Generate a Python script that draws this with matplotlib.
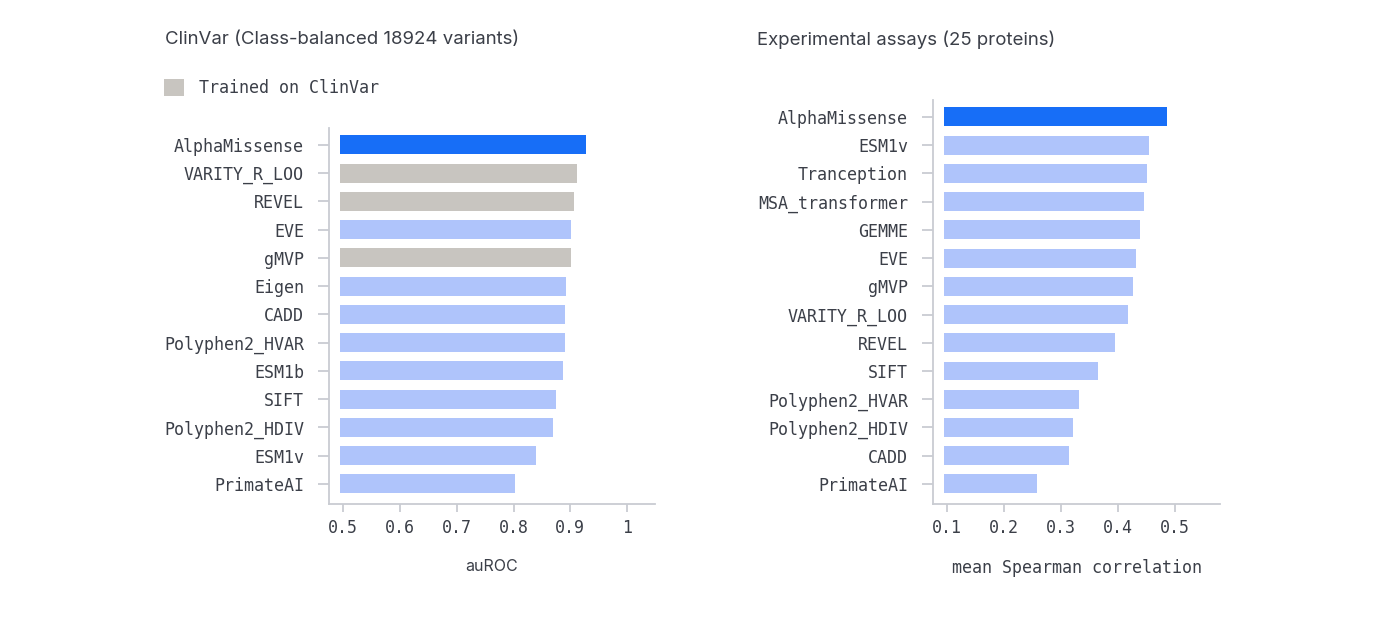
import matplotlib
matplotlib.use("Agg")
import matplotlib.pyplot as plt
from matplotlib.patches import Patch

# ClinVar panel
clinvar_models = ["AlphaMissense", "VARITY_R_LOO", "REVEL", "EVE", "gMVP", "Eigen", "CADD",
                  "Polyphen2_HVAR", "ESM1b", "SIFT", "Polyphen2_HDIV", "ESM1v", "PrimateAI"]
clinvar_auroc = [0.927, 0.911, 0.907, 0.901, 0.901, 0.893, 0.890,
                 0.890, 0.887, 0.874, 0.870, 0.839, 0.803]
clinvar_trained = [False, True, True, False, True, False, False,
                   False, False, False, False, False, False]
clinvar_ticks = [0.5, 0.6, 0.7, 0.8, 0.9, 1.0]
clinvar_ticklabels = ["0.5", "0.6", "0.7", "0.8", "0.9", "1"]

# experimental assays panel
assay_models = ["AlphaMissense", "ESM1v", "Tranception", "MSA_transformer", "GEMME", "EVE", "gMVP",
                "VARITY_R_LOO", "REVEL", "SIFT", "Polyphen2_HVAR", "Polyphen2_HDIV", "CADD", "PrimateAI"]
assay_spearman = [0.486, 0.454, 0.450, 0.445, 0.439, 0.432, 0.427,
                  0.418, 0.394, 0.364, 0.331, 0.321, 0.314, 0.257]
assay_ticks = [0.1, 0.2, 0.3, 0.4, 0.5]
assay_ticklabels = ["0.1", "0.2", "0.3", "0.4", "0.5"]

BLUE = "#176ef7"
LIGHT = "#afc4fb"
GREY = "#c8c5c0"
SPINE = "#c9ccd2"
TEXT = "#3b3f48"
MONO = "DejaVu Sans Mono"
SANS = "Inter"

fig = plt.figure(figsize=(13.98, 6.37), dpi=100)


def style_axes(ax, names, ticks, ticklabels):
    for s in ["top", "right"]:
        ax.spines[s].set_visible(False)
    for s in ["left", "bottom"]:
        ax.spines[s].set_color(SPINE)
        ax.spines[s].set_linewidth(1.3)
    ax.set_yticks(range(len(names)))
    ax.set_yticklabels(names, family=MONO, fontsize=12, color=TEXT)
    ax.set_xticks(ticks)
    ax.set_xticklabels(ticklabels, family=MONO, fontsize=12, color=TEXT)
    ax.tick_params(axis="y", length=8, width=1.3, color=SPINE, pad=10)
    ax.tick_params(axis="x", length=6, width=1.3, color=SPINE, pad=5)


# left panel
ax1 = fig.add_axes([0.2353, 0.2088, 0.2332, 0.5903])
colors1 = []
for i, t in enumerate(clinvar_trained):
    if i == 0:
        colors1.append(BLUE)
    elif t:
        colors1.append(GREY)
    else:
        colors1.append(LIGHT)
base1 = 0.495
ax1.barh(range(len(clinvar_models)), [v - base1 for v in clinvar_auroc], left=base1,
         height=0.67, color=colors1)
ax1.set_xlim(0.475, 1.049)
ax1.set_ylim(len(clinvar_models) - 1 + 0.71, -0.6)
style_axes(ax1, clinvar_models, clinvar_ticks, clinvar_ticklabels)
ax1.set_xlabel("auROC", family=SANS, fontsize=11.5, color=TEXT, labelpad=16)

# right panel
ax2 = fig.add_axes([0.6674, 0.2088, 0.2053, 0.6342])
colors2 = [BLUE] + [LIGHT] * (len(assay_models) - 1)
base2 = 0.095
ax2.barh(range(len(assay_models)), [v - base2 for v in assay_spearman], left=base2,
         height=0.67, color=colors2)
ax2.set_xlim(0.0754, 0.579)
ax2.set_ylim(len(assay_models) - 1 + 0.71, -0.6)
style_axes(ax2, assay_models, assay_ticks, assay_ticklabels)
ax2.set_xlabel("mean Spearman correlation", family=MONO, fontsize=12, color=TEXT, labelpad=16)

# titles
fig.text(165 / 1398, 1 - 40 / 637, "ClinVar (Class-balanced 18924 variants)",
         family=SANS, fontsize=13.4, color=TEXT, va="center", ha="left")
fig.text(757 / 1398, 1 - 40 / 637, "Experimental assays (25 proteins)",
         family=SANS, fontsize=13.4, color=TEXT, va="center", ha="left")

# legend
leg = fig.legend(handles=[Patch(facecolor=GREY, edgecolor="none", label="Trained on ClinVar")],
                 loc="center left", bbox_to_anchor=(164 / 1398, 1 - 88 / 637),
                 frameon=False, borderpad=0, borderaxespad=0,
                 handlelength=1.2, handleheight=1.2, handletextpad=0.9,
                 prop={"family": MONO, "size": 12})
for t in leg.get_texts():
    t.set_color(TEXT)

fig.savefig("out.png", dpi=100, facecolor="white")
